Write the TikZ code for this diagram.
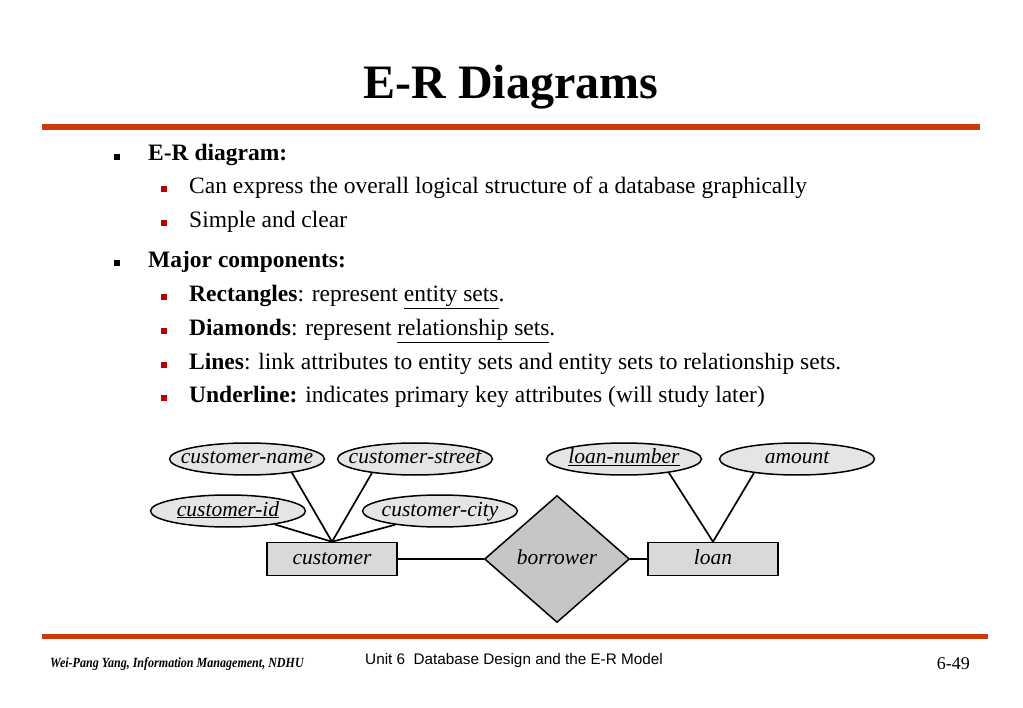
\documentclass[tikz,border=0pt]{standalone}
\usepackage{fontspec}
\setmainfont{Liberation Serif}
\setsansfont{Liberation Sans}
\usetikzlibrary{shapes.geometric,positioning}
\definecolor{barorange}{HTML}{CC3A0A}
\definecolor{bulletred}{HTML}{C00000}
\tikzset{
  attr/.style={ellipse, draw, line width=1.5pt, fill=gray!20, minimum width=155pt, minimum height=32pt, inner xsep=-30pt, inner ysep=0pt, text height=14pt, text depth=4pt, font=\fontsize{21.5}{21.5}\selectfont\itshape},
  entity/.style={rectangle, draw, line width=1.5pt, fill=gray!30, minimum width=130pt, minimum height=33pt, inner sep=0pt, text height=14pt, text depth=4pt, font=\fontsize{21.5}{21.5}\selectfont\itshape},
  rel/.style={diamond, draw, line width=1.5pt, fill=gray!45, minimum width=145pt, minimum height=127pt, inner sep=0pt, text height=14pt, text depth=4pt, font=\fontsize{21.5}{21.5}\selectfont\itshape},
  link/.style={line width=1.7pt},
  bar/.style={fill=barorange, draw=none},
  txt/.style={anchor=base west, inner sep=0pt, font=\fontsize{23.5}{23.5}\selectfont},
  blk/.style={fill=black, draw=none, minimum size=6pt, inner sep=0pt},
  red/.style={fill=bulletred, draw=none, minimum size=6pt, inner sep=0pt}
}
\begin{document}
\begin{tikzpicture}[x=1pt,y=-1pt]
\useasboundingbox (0,0) rectangle (1023,708);

% title and bars
\node[anchor=base, inner sep=0pt, font=\fontsize{48}{48}\selectfont\bfseries] (title) at (511,99) {E-R Diagrams};
\fill[bar] (42,124) rectangle (980,130);
\fill[bar] (42,634) rectangle (988,639);

% bullet list
\node[txt, font=\fontsize{23.5}{23.5}\selectfont\bfseries] (l1) at (148,161) {E-R diagram:};
\node[txt] (l2) at (189,194) {Can express the overall logical structure of a database graphically};
\node[txt] (l3) at (189,228) {Simple and clear};
\node[txt, font=\fontsize{23.5}{23.5}\selectfont\bfseries] (l4) at (148,268) {Major components:};
\node[txt] (l5) at (189,302) {\textbf{Rectangles}: represent \underline{entity sets}.};
\node[txt] (l6) at (189,336) {\textbf{Diamonds}: represent \underline{relationship sets}.};
\node[txt] (l7) at (189,370) {\textbf{Lines}: link attributes to entity sets and entity sets to relationship sets.};
\node[txt] (l8) at (189,403) {\textbf{Underline:} indicates primary key attributes (will study later)};
\foreach \y in {157,263} \node[blk] at (117,\y) {};
\foreach \y in {189,223,297,331,365,398} \node[red] at (164,\y) {};

% E-R diagram
\node[attr] (cname) at (247,459) {customer-name};
\node[attr] (cstreet) at (415,459) {customer-street};
\node[attr] (cid) at (228,511) {\underline{customer-id}};
\node[attr] (ccity) at (440,511) {customer-city};
\node[entity] (cust) at (332,559) {customer};
\node[rel] (borrow) at (557,559) {borrower};
\node[entity] (loan) at (713,559) {loan};
\node[attr] (lnum) at (624,459) {\underline{loan-number}};
\node[attr] (amt) at (797,459) {amount};

\draw[link] (cname.-17) -- (cust.north);
\draw[link] (cstreet.-162) -- (cust.north);
\draw[link] (cid.-16) -- (cust.north);
\draw[link] (ccity.-163) -- (cust.north);
\draw[link] (cust.east) -- (borrow.west);
\draw[link] (borrow.east) -- (loan.west);
\draw[link] (lnum.-17) -- (loan.north);
\draw[link] (amt.-162) -- (loan.north);

% footer
\node[anchor=base west, inner sep=0pt, font=\fontsize{14}{14}\selectfont\bfseries\itshape] (author) at (50,667) {\scalebox{0.86}[1]{Wei-Pang Yang, Information Management, NDHU}};
\node[anchor=base west, inner sep=0pt, font=\fontsize{15.3}{15.3}\selectfont\sffamily] (unit) at (365,664) {Unit 6\ \ Database Design and the E-R Model};
\node[anchor=base east, inner sep=0pt, font=\fontsize{18}{18}\selectfont] (page) at (970,669) {6-49};
\end{tikzpicture}
\end{document}
